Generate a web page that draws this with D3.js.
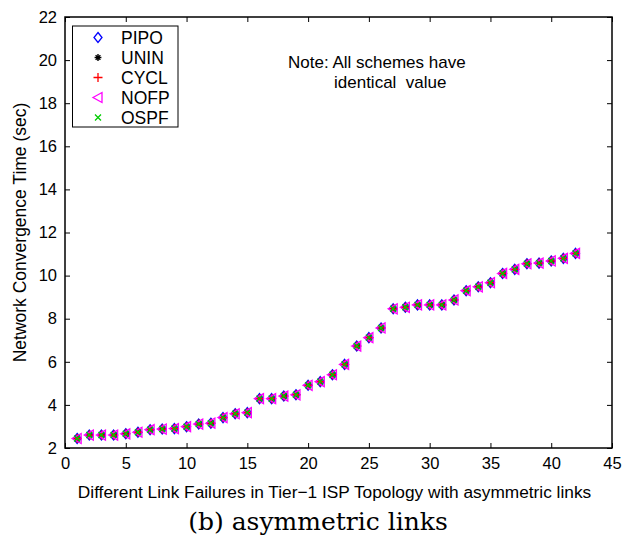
<!DOCTYPE html>
<html><head><meta charset="utf-8">
<script src="https://cdn.jsdelivr.net/npm/d3@7"></script>
<style>body{margin:0;background:#fff}svg{display:block}</style>
</head><body><svg id="c" width="631" height="540"></svg>
<script>
const failures = d3.range(1, 43);
const convergence = [2.44,2.6,2.6,2.6,2.66,2.73,2.85,2.88,2.9,2.99,3.11,3.15,3.41,3.59,3.64,
  4.29,4.29,4.41,4.47,4.91,5.08,5.4,5.88,6.73,7.12,7.57,8.46,8.53,8.64,8.64,8.64,8.87,9.3,9.48,9.67,
  10.1,10.29,10.55,10.58,10.68,10.8,11.03];
const schemes = ["PIPO","UNIN","CYCL","NOFP","OSPF"];
const colors = ["#0000ff","#000000","#ff0000","#ff00ff","#00cc00"];
const xTicks = [0,5,10,15,20,25,30,35,40,45];
const yTicks = [2,4,6,8,10,12,14,16,18,20,22];

const svg = d3.select("#c");
const L=65,R=612,T=17,B=448;
const x = d3.scaleLinear().domain([0,45]).range([L,R]);
const y = d3.scaleLinear().domain([2,22]).range([B,T]);
const font = "Liberation Sans, Arial, Helvetica, sans-serif";

function marker(g, k, cx, cy){
  const c = colors[k];
  if(k===0){ g.append("path").attr("d",`M${cx},${cy-5}L${cx+4},${cy}L${cx},${cy+5}L${cx-4},${cy}Z`).attr("fill","none").attr("stroke",c).attr("stroke-width",1.3); }
  else if(k===1){ const s=3.4; g.append("path").attr("d",`M${cx-s},${cy}H${cx+s}M${cx},${cy-s}V${cy+s}M${cx-s*0.7},${cy-s*0.7}L${cx+s*0.7},${cy+s*0.7}M${cx-s*0.7},${cy+s*0.7}L${cx+s*0.7},${cy-s*0.7}`).attr("stroke",c).attr("stroke-width",1.4); }
  else if(k===2){ const s=4.5; g.append("path").attr("d",`M${cx-s},${cy}H${cx+s}M${cx},${cy-s}V${cy+s}`).attr("stroke",c).attr("stroke-width",1.3); }
  else if(k===3){ g.append("path").attr("d",`M${cx-5},${cy}L${cx+4},${cy-5}L${cx+4},${cy+5}Z`).attr("fill","none").attr("stroke",c).attr("stroke-width",1.3); }
  else { const s=3; g.append("path").attr("d",`M${cx-s},${cy-s}L${cx+s},${cy+s}M${cx-s},${cy+s}L${cx+s},${cy-s}`).attr("stroke",c).attr("stroke-width",1.3); }
}

// axes (inward ticks, box)
const axB = svg.append("g").attr("transform",`translate(0,${B})`).call(d3.axisBottom(x).tickValues(xTicks).tickSize(-5).tickPadding(9).tickFormat(d3.format("d")));
const axT = svg.append("g").attr("transform",`translate(0,${T})`).call(d3.axisTop(x).tickValues(xTicks).tickSize(-5).tickFormat(""));
const axL = svg.append("g").attr("transform",`translate(${L},0)`).call(d3.axisLeft(y).tickValues(yTicks).tickSize(-5).tickPadding(8).tickFormat(d3.format("d")));
const axR = svg.append("g").attr("transform",`translate(${R},0)`).call(d3.axisRight(y).tickValues(yTicks).tickSize(-5).tickFormat(""));
[axB,axT,axL,axR].forEach(a=>{a.select(".domain").remove(); a.selectAll("line").attr("stroke","#000").attr("stroke-width",1);
  a.selectAll("text").attr("font-family",font).attr("font-size",16.5).attr("fill","#000");});
svg.append("rect").attr("x",L).attr("y",T).attr("width",R-L).attr("height",B-T).attr("fill","none").attr("stroke","#000").attr("stroke-width",1.5);

// data
const pts = svg.append("g");
schemes.forEach((s,k)=>{ failures.forEach((f,i)=>marker(pts,k,x(f),y(convergence[i]))); });

// legend
svg.append("rect").attr("x",72.5).attr("y",26).attr("width",105.5).attr("height",101).attr("fill","#fff").attr("stroke","#000").attr("stroke-width",1);
schemes.forEach((s,k)=>{ const cy=37.5+k*20; marker(svg,k,98,cy);
  svg.append("text").attr("x",121).attr("y",cy+6).attr("font-family",font).attr("font-size",17.5).text(s); });

// note
svg.append("text").attr("x",288).attr("y",68).attr("font-family",font).attr("font-size",17).text("Note: All schemes have");
svg.append("text").attr("x",334).attr("y",88).attr("font-family",font).attr("font-size",17).attr("xml:space","preserve").text("identical  value");

// axis titles
svg.append("text").attr("x",(L+R)/2 - 4).attr("y",498).attr("text-anchor","middle").attr("font-family",font).attr("font-size",17.3).text("Different Link Failures in Tier\u22121 ISP Topology with asymmetric links");
svg.append("text").attr("transform",`translate(26,${(T+B)/2}) rotate(-90)`).attr("text-anchor","middle").attr("font-family",font).attr("font-size",17.5).text("Network Convergence Time (sec)");
svg.append("text").attr("x",318).attr("y",530).attr("text-anchor","middle").attr("font-family","DejaVu Serif, serif").attr("font-size",25).text("(b) asymmetric links");
</script></body></html>
